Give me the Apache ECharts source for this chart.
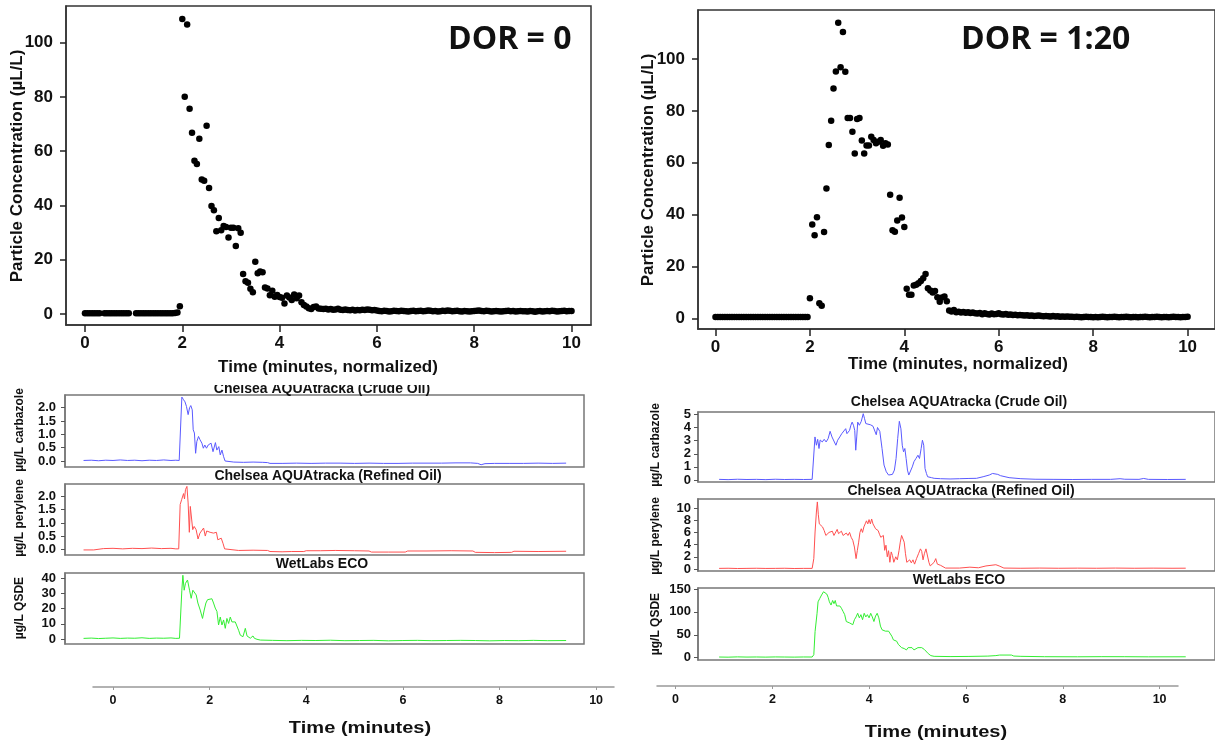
<!DOCTYPE html>
<html><head><meta charset="utf-8">
<script src="https://cdn.jsdelivr.net/npm/echarts@6/dist/echarts.min.js"></script>
<style>html,body{margin:0;padding:0;background:#fff;overflow:hidden}#c{width:1215px;height:742px}</style>
</head><body><div id="c"></div><script>
// ---------- DATA ----------
const scatterT0 = 0, scatterStep = 0.05;   // sampling grid of the particle counter (minutes)
const dor0Values = [
 0.3,0.3,0.3,0.3,0.3,0.3,0.3, null,
 0.3,0.3,0.3,0.3,0.3,0.3,0.3,0.3,0.3,0.3,0.3, null,null,
 0.3,0.3,0.3,0.3,0.3,0.3,0.3,0.3,0.3,0.3,0.3,0.3,0.3,0.3,0.3,0.3,0.4,0.6,
 2.9,
 108.7,80.1,106.7,75.6,66.8,56.5,55.3,64.6,49.6,49.1,69.4,46.4,39.8,38.2,30.5,35.4,30.9,32.4,32.1,28.2,
 31.8,31.8,25.1,31.6,29.9,14.7,12.1,11.5,9.3,8.0,19.3,15.0,15.7,15.4,9.8,9.4,6.9,8.6,6.4,7.0,
 6.3,6.0,3.9,6.8,6.1,5.2,7.2,5.8,6.8,4.3,3.3,2.8,2.1,1.8,2.6,2.8,2.0,1.9,1.8,1.9,1.7,
 1.8,1.6,1.7,1.9,1.6,1.5,1.7,1.5,1.4,1.6,
 1.3,1.5,1.4,1.6,1.5,1.7,1.6,1.4,1.5,1.3,
 1.1,1.0,1.2,1.1,0.9,1.0,1.2,1.1,1.0,1.2,
 1.1,1.0,0.9,1.1,1.2,1.0,1.1,1.2,1.0,1.1,
 1.3,1.2,1.0,1.1,0.9,1.0,1.2,1.1,1.3,1.2,
 1.0,1.1,1.2,1.0,0.9,1.1,1.0,0.9,1.0,1.1,
 1.2,1.3,1.1,1.0,1.2,1.1,0.9,1.0,1.1,1.0,
 0.9,1.0,1.1,1.2,1.0,1.1,0.9,1.0,1.1,1.0,
 1.0,0.9,1.1,1.0,0.8,1.0,1.1,0.9,1.0,1.1,
 1.0,1.2,1.1,0.9,1.0,1.1,1.2,1.0,1.1,1.1
];
const dor20Values = [
 0.5,0.5,0.5,0.5,0.5,0.5,0.5,0.5,0.5,0.5,0.5,0.5,0.5,0.5,0.5,0.5,0.5,0.5,0.5,0.5,
 0.5,0.5,0.5,0.5,0.5,0.5,0.5,0.5,0.5,0.5,0.5,0.5,0.5,0.5,0.5,0.5,0.5,0.5,0.5,0.5,
 7.7,36.2,32,39,5.8,4.8,33.3,50.1,66.8,76.2,88.6,95.2,114,96.8,110.4,95.1,77.2,77.2,71.9,63.6,
 76.9,77.2,68.6,63.6,66.6,66.6,70,68.8,67.5,68.1,68.8,66.5,67.5,67,47.6,34,33.4,37.7,46.5,38.9,
 35.2,11.4,9.1,9.1,12.6,12.9,13.5,14.4,15.4,17.1,11.6,10.7,9.9,10.5,8.1,6.4,8,8.4,6.6,3,
 2.6,3.2,2.3,
 2.5,2.2,2.4,2.1,2.3,2.0,2.2,1.9,
 1.8,2.0,1.6,1.9,1.7,1.5,1.8,1.6,1.7,1.9,
 1.6,1.5,1.7,1.4,1.5,1.3,1.4,1.2,1.3,1.2,
 1.1,1.2,1.0,1.1,0.9,1.0,1.1,0.9,0.8,0.9,
 0.8,0.7,0.9,0.7,0.8,0.6,0.7,0.6,0.7,0.6,
 0.6,0.5,0.6,0.5,0.4,0.5,0.6,0.5,0.5,0.4,
 0.5,0.4,0.5,0.6,0.5,0.4,0.5,0.5,0.6,0.5,0.4,0.5,0.5,0.6,0.5,0.4,0.5,0.5,0.4,0.5,
 0.5,0.6,0.5,0.4,0.5,0.5,0.6,0.5,0.4,0.5,0.5,0.4,0.5,0.6,0.5,0.5,0.4,0.5,0.5,0.6
];
// fluorometer traces: [time (min), value]
const crudeLeft = [
 [-0.61,0.02],[-0.45,0.03],[-0.3,0.01],[-0.15,0.03],[0,0.02],[0.15,0.04],[0.3,0.02],[0.45,0.03],[0.6,0.01],[0.75,0.03],[0.9,0.02],[1.05,0.04],[1.2,0.02],[1.3,0.03],[1.37,0.02],
 [1.425,2.4],[1.46,2.3],[1.49,2.22],[1.52,2.05],[1.555,1.74],[1.585,2.0],[1.61,2.08],[1.64,1.92],[1.66,1.17],[1.685,1.05],[1.71,0.29],[1.735,0.73],[1.77,0.92],[1.80,0.8],[1.84,0.67],[1.87,0.48],[1.90,0.6],[1.935,0.48],[1.97,0.6],[2.03,0.67],[2.07,0.35],[2.12,0.69],[2.15,0.41],[2.19,0.54],[2.22,0.23],[2.255,0.41],[2.29,0.16],[2.32,0.0],[2.36,-0.03],
 [2.5,-0.04],[2.7,-0.05],[2.9,-0.04],[3.1,-0.05],[3.2,-0.06],[3.25,-0.09],[3.5,-0.09],[3.8,-0.08],[4.1,-0.09],[4.4,-0.08],[4.7,-0.08],[5.0,-0.09],[5.3,-0.08],[5.6,-0.09],[5.9,-0.09],[6.2,-0.08],[6.5,-0.08],[6.8,-0.08],[7.1,-0.07],[7.4,-0.07],[7.55,-0.09],[7.62,-0.14],[7.7,-0.1],[7.9,-0.09],[8.2,-0.09],[8.5,-0.09],[8.8,-0.08],[9.1,-0.09],[9.38,-0.08]
];
const refinedLeft = [
 [-0.61,-0.01],[-0.4,-0.01],[-0.36,0.05],[-0.2,0.04],[0,0.05],[0.2,0.03],[0.4,0.05],[0.6,0.04],[0.8,0.06],[1.0,0.04],[1.2,0.05],[1.3,0.03],[1.36,0.03],
 [1.39,1.69],[1.42,1.87],[1.46,2.10],[1.48,1.9],[1.50,2.25],[1.53,2.37],[1.555,1.75],[1.58,0.65],[1.60,1.62],[1.62,1.69],[1.65,0.75],[1.68,0.87],[1.72,0.75],[1.76,0.4],[1.80,0.62],[1.84,0.55],[1.875,0.81],[1.91,0.51],[1.94,0.7],[2.01,0.65],[2.08,0.62],[2.14,0.65],[2.17,0.37],[2.21,0.31],[2.24,0.43],[2.28,0.22],[2.31,0.03],[2.35,-0.03],
 [2.6,-0.03],[2.9,-0.02],[3.2,-0.03],[3.25,-0.07],[3.5,-0.08],[3.7,-0.07],[3.95,-0.07],[4.0,-0.04],[4.3,-0.04],[4.6,-0.03],[5.0,-0.04],[5.3,-0.05],[5.35,-0.09],[5.7,-0.09],[6.05,-0.09],[6.1,-0.05],[6.5,-0.05],[7.0,-0.04],[7.45,-0.05],[7.5,-0.1],[7.9,-0.11],[8.25,-0.1],[8.3,-0.06],[8.8,-0.07],[9.38,-0.06]
];
const ecoLeft = [
 [-0.61,0.4],[-0.45,0.6],[-0.3,0.3],[-0.15,0.5],[0,0.7],[0.15,0.4],[0.3,0.6],[0.45,0.5],[0.6,0.8],[0.75,0.4],[0.9,0.6],[1.05,0.5],[1.2,0.7],[1.3,0.4],[1.376,0.5],
 [1.425,32],[1.446,41.8],[1.473,32],[1.50,36.5],[1.542,38.7],[1.584,32],[1.618,26.7],[1.653,32],[1.687,33.2],[1.722,28.9],[1.757,23.6],[1.805,19],[1.853,13.5],[1.888,19],[1.923,23.6],[1.957,25.8],[1.998,26.8],[2.047,26.4],[2.081,23.6],[2.116,20.3],[2.151,18.1],[2.185,9.2],[2.22,14.4],[2.255,9.2],[2.289,12.5],[2.324,7],[2.358,13.5],[2.393,10.2],[2.427,14.4],[2.462,11.2],[2.496,10.2],[2.531,11.2],[2.566,12.3],[2.6,5.7],[2.635,2.5],[2.69,1.5],[2.739,7],[2.774,2],[2.842,0.5],[2.898,2],[2.925,0.5],[2.98,-0.2],[3.05,-0.7],
 [3.3,-0.9],[3.6,-1.1],[3.9,-0.9],[4.2,-1.0],[4.5,-0.8],[4.8,-1.1],[5.1,-1.0],[5.4,-0.9],[5.7,-1.2],[6.0,-1.0],[6.3,-0.9],[6.6,-1.1],[6.9,-1.0],[7.2,-0.9],[7.5,-1.0],[7.8,-1.2],[8.1,-1.0],[8.4,-1.1],[8.7,-0.9],[9.0,-1.1],[9.38,-1.0]
];
const crudeRight = [
 [0.91,0.05],[1.1,0.03],[1.3,0.06],[1.5,0.04],[1.7,0.05],[1.9,0.03],[2.1,0.06],[2.3,0.04],[2.5,0.05],[2.7,0.04],[2.88,0.05],[2.915,0.1],
 [2.94,3.28],[2.97,2.65],[2.997,3.1],[3.025,2.4],[3.05,3.05],[3.094,2.9],[3.135,3.1],[3.176,2.9],[3.218,3.15],[3.26,3.71],[3.3,3.28],[3.34,3.15],[3.383,2.65],[3.42,3.03],[3.465,3.28],[3.507,3.53],[3.548,3.45],[3.59,3.91],[3.617,3.53],[3.645,3.66],[3.672,3.78],[3.7,4.17],[3.727,4.41],[3.755,4.17],[3.782,3.78],[3.803,2.27],[3.824,3.28],[3.845,4.41],[3.879,4.17],[3.92,4.47],[3.962,5.05],[3.99,4.67],[4.016,4.3],[4.058,4.17],[4.12,4.2],[4.168,4.1],[4.21,4.17],[4.237,3.45],[4.264,4.0],[4.292,4.1],[4.313,3.7],[4.36,2.4],[4.402,1.14],[4.45,0.63],[4.498,0.38],[4.54,0.5],[4.58,0.43],[4.622,0.76],[4.657,1.64],[4.691,3.15],[4.726,4.47],[4.76,3.9],[4.788,2.65],[4.815,2.15],[4.843,2.4],[4.87,1.64],[4.898,0.76],[4.926,0.38],[4.967,0.5],[5.0,1.0],[5.036,1.4],[5.078,1.64],[5.12,1.89],[5.153,1.64],[5.188,2.4],[5.215,3.03],[5.243,2.65],[5.27,0.88],[5.3,0.5],[5.325,0.25],[5.366,0.38],[5.408,0.18],[5.463,0.13],
 [5.6,0.1],[5.8,0.08],[6.0,0.1],[6.2,0.12],[6.36,0.13],[6.5,0.25],[6.63,0.38],[6.70,0.5],[6.81,0.43],[6.87,0.33],[7.05,0.18],[7.3,0.1],[7.6,0.06],[8.0,0.05],[8.4,0.04],[8.8,0.05],[9.2,0.05],[9.4,0.1],[9.5,0.06],[9.8,0.05],[9.9,0.12],[10.0,0.05],[10.4,0.04],[10.79,0.05]
];
const refinedRight = [
 [0.91,0.1],[1.1,0.12],[1.3,0.08],[1.5,0.1],[1.7,0.12],[1.9,0.09],[2.1,0.1],[2.3,0.12],[2.5,0.08],[2.7,0.1],[2.88,0.1],[2.915,1.7],
 [2.942,6.07],[2.97,9.34],[2.99,11.0],[3.011,8.9],[3.032,7.4],[3.066,7.2],[3.1,6.9],[3.135,6.3],[3.17,5.5],[3.204,5.2],[3.238,6.0],[3.273,5.8],[3.307,6.2],[3.342,5.5],[3.376,5.2],[3.41,6.5],[3.438,5.8],[3.466,5.5],[3.5,6.2],[3.535,5.5],[3.569,5.6],[3.603,5.9],[3.638,5.5],[3.672,6.0],[3.706,5.2],[3.741,4.7],[3.775,3.6],[3.81,1.7],[3.837,3.06],[3.865,4.4],[3.892,6.0],[3.92,6.6],[3.947,6.0],[3.975,6.9],[4.003,7.4],[4.03,7.9],[4.058,7.4],[4.085,8.1],[4.113,7.4],[4.14,8.2],[4.168,7.4],[4.195,7.2],[4.223,6.6],[4.25,6.9],[4.278,6.3],[4.306,5.7],[4.333,5.2],[4.36,4.9],[4.388,5.5],[4.416,3.06],[4.443,3.9],[4.471,2.0],[4.498,3.0],[4.526,1.1],[4.554,2.8],[4.581,2.2],[4.609,1.1],[4.65,2.0],[4.684,1.5],[4.719,3.0],[4.746,4.4],[4.774,5.5],[4.801,5.8],[4.829,4.4],[4.856,2.5],[4.884,1.1],[4.912,0.8],[4.946,1.5],[4.98,1.0],[5.015,1.5],[5.049,0.8],[5.09,1.7],[5.132,2.5],[5.173,3.3],[5.2,2.9],[5.228,1.5],[5.256,2.5],[5.29,3.3],[5.325,3.0],[5.352,1.1],[5.38,0.5],[5.421,0.8],[5.463,1.1],[5.497,1.7],[5.531,0.8],[5.566,0.5],[5.6,0.6],[5.641,0.3],[5.703,0.15],
 [6.0,0.15],[6.22,0.3],[6.4,0.2],[6.56,0.5],[6.77,0.7],[6.84,0.5],[6.94,0.15],[7.3,0.12],[7.7,0.15],[8.1,0.12],[8.5,0.14],[8.9,0.12],[9.3,0.15],[9.7,0.12],[10.1,0.14],[10.5,0.12],[10.79,0.13]
];
const ecoRight = [
 [0.91,1.5],[1.1,1.2],[1.3,1.8],[1.5,1.4],[1.7,1.6],[1.9,1.3],[2.1,1.7],[2.3,1.5],[2.5,1.3],[2.7,1.6],[2.88,1.5],[2.915,6.5],
 [2.942,57],[2.97,54],[2.984,97],[3.005,122],[3.039,129],[3.08,137],[3.121,144],[3.163,142],[3.19,139],[3.218,132],[3.245,122],[3.28,115],[3.314,125],[3.342,118],[3.369,125],[3.397,113],[3.431,115],[3.466,113],[3.5,108],[3.535,101],[3.569,94],[3.603,79],[3.638,83],[3.672,76],[3.706,79],[3.741,72],[3.775,83],[3.81,89],[3.844,97],[3.879,87],[3.913,94],[3.947,83],[3.982,97],[4.016,89],[4.05,94],[4.085,87],[4.12,97],[4.154,89],[4.188,79],[4.223,91],[4.257,97],[4.292,87],[4.326,69],[4.36,61],[4.395,65],[4.43,58],[4.464,61],[4.498,58],[4.533,61],[4.567,47],[4.6,39],[4.636,36],[4.67,36],[4.705,29],[4.74,25],[4.774,22],[4.829,20],[4.877,17],[4.912,22],[4.953,18],[4.994,22],[5.036,17],[5.077,18],[5.12,22],[5.16,18],[5.2,22],[5.256,18],[5.297,14],[5.338,9],[5.393,4.6],[5.463,3],
 [5.8,2.5],[6.2,2.8],[6.6,3.5],[6.77,4.6],[6.85,5.8],[7.1,5.8],[7.15,3.6],[7.3,3],[7.8,2.2],[8.5,2],[9.0,2.3],[9.5,2.2],[10.0,1.9],[10.79,2]
];
const scatterXTicks = [0,2,4,6,8,10];
const scatterYTicks = [0,20,40,60,80,100];
const timeTicks = [0,2,4,6,8,10];
const crudeTicksL = [0,0.5,1,1.5,2];
const refinedTicksL = [0,0.5,1,1.5,2];
const ecoTicksL = [0,10,20,30,40];
const crudeTicksR = [0,1,2,3,4,5];
const refinedTicksR = [0,2,4,6,8,10];
const ecoTicksR = [0,50,100,150];

// ---------- CHART ----------
const SANS = '"Liberation Sans", Arial, Helvetica, sans-serif';
const toPts = vals => vals.map((v,i) => v === null ? null : [scatterT0 + i*scatterStep, v]).filter(Boolean);
const evens = a => a.filter((_, i) => i % 2 === 0);
const odds = a => a.filter((_, i) => i % 2 === 1);

const grids = [
 {left:66, top:6, width:525, height:319, show:true, borderColor:'#333', borderWidth:1.5},
 {left:698, top:10, width:530, height:319, show:true, borderColor:'#333', borderWidth:1.5},
 {left:65, top:395, width:519, height:72, show:true, borderColor:'#777', borderWidth:1.5},
 {left:65, top:484, width:519, height:71, show:true, borderColor:'#777', borderWidth:1.5},
 {left:65, top:573, width:519, height:71, show:true, borderColor:'#777', borderWidth:1.5},
 {left:698, top:412, width:530, height:70, show:true, borderColor:'#777', borderWidth:1.5},
 {left:698, top:499, width:530, height:72, show:true, borderColor:'#777', borderWidth:1.5},
 {left:698, top:588, width:530, height:72, show:true, borderColor:'#777', borderWidth:1.5},
 {left:93, top:686, width:521, height:1, show:false},
 {left:657, top:685, width:521, height:1, show:false}
];

function scatterX(gi, min, max) {
  return {type:'value', gridIndex:gi, min, max, position:'bottom', splitLine:{show:false},
    axisLine:{show:true, onZero:false, lineStyle:{color:'#333', width:1.5}},
    axisTick:{show:true, customValues:scatterXTicks, length:7, lineStyle:{color:'#222', width:1.5}},
    axisLabel:{customValues:scatterXTicks, showMinLabel:true, showMaxLabel:true, margin:10, color:'#111', fontWeight:'bold', fontSize:17, fontFamily:SANS}};
}
function scatterY(gi, min, max) {
  return {type:'value', gridIndex:gi, min, max, position:'left', splitLine:{show:false},
    axisLine:{show:true, onZero:false, lineStyle:{color:'#333', width:1.5}},
    axisTick:{show:true, customValues:scatterYTicks, length:6, lineStyle:{color:'#222', width:1.5}},
    axisLabel:{customValues:scatterYTicks, showMinLabel:true, showMaxLabel:true, margin:13, color:'#111', fontWeight:'bold', fontSize:17, fontFamily:SANS}};
}
function hiddenX(gi, min, max) {
  return {type:'value', gridIndex:gi, min, max, show:false, splitLine:{show:false}, axisLine:{onZero:false}};
}
function panelY(gi, min, max, ticks, dec, margin) {
  return {type:'value', gridIndex:gi, min, max, position:'left', splitLine:{show:false},
    axisLine:{show:true, onZero:false, lineStyle:{color:'#777', width:1.5}},
    axisTick:{show:true, customValues:ticks, length:4, lineStyle:{color:'#555', width:1}},
    axisLabel:{customValues:ticks, showMinLabel:true, showMaxLabel:true, hideOverlap:false, margin,
      color:'#111', fontWeight:'bold', fontSize:13, fontFamily:SANS,
      formatter: v => Number(v).toFixed(dec)}};
}
function timeX(gi, min, max) {
  return {type:'value', gridIndex:gi, min, max, position:'bottom', splitLine:{show:false},
    axisLine:{show:true, onZero:false, lineStyle:{color:'#999', width:1.5}},
    axisTick:{show:true, customValues:timeTicks, length:3, lineStyle:{color:'#999', width:1}},
    axisLabel:{customValues:timeTicks, showMinLabel:true, showMaxLabel:true, margin:7, color:'#111', fontWeight:'bold', fontSize:12.5, fontFamily:SANS}};
}
function hiddenY(gi) { return {type:'value', gridIndex:gi, min:0, max:1, show:false, splitLine:{show:false}, axisLine:{onZero:false}}; }

const xAxes = [
 scatterX(0, -0.39, 10.4), scatterX(1, -0.37, 10.58),
 hiddenX(2, -0.994, 9.75), hiddenX(3, -0.994, 9.75), hiddenX(4, -0.994, 9.75),
 hiddenX(5, 0.463, 11.41), hiddenX(6, 0.463, 11.41), hiddenX(7, 0.463, 11.41),
 timeX(8, -0.414, 10.37), timeX(9, -0.384, 10.38)
];
const yAxes = [
 scatterY(0, -4.05, 113.5), scatterY(1, -4.13, 118.9),
 panelY(2, -0.225, 2.477, crudeTicksL, 1, 9), panelY(3, -0.2, 2.46, refinedTicksL, 1, 9), panelY(4, -3.28, 43.3, ecoTicksL, 0, 9),
 panelY(5, -0.15, 5.18, crudeTicksR, 0, 7), panelY(6, -0.33, 11.48, evens(refinedTicksR), 0, 7), panelY(7, -5.0, 152.2, ecoTicksR, 0, 7),
 hiddenY(8), hiddenY(9),
 // second label set for the tightly spaced refined-oil axis (same scale, alternate ticks)
 panelY(6, -0.33, 11.48, odds(refinedTicksR), 0, 7)
];

function scat(idx, vals) {
  return {type:'scatter', xAxisIndex:idx, yAxisIndex:idx, data:toPts(vals), symbolSize:6.5,
    itemStyle:{color:'#000', opacity:1}, silent:true};
}
function trace(idx, data, color) {
  return {type:'line', xAxisIndex:idx, yAxisIndex:idx, data, showSymbol:false, symbol:'none',
    lineStyle:{color, width:1}, silent:true};
}
const series = [
 scat(0, dor0Values), scat(1, dor20Values),
 trace(2, crudeLeft, '#5a5aff'), trace(3, refinedLeft, '#ff5050'), trace(4, ecoLeft, '#33ee33'),
 trace(5, crudeRight, '#5a5aff'), trace(6, refinedRight, '#ff5050'), trace(7, ecoRight, '#33ee33')
];

function txt(text, x, y, size, opts) {
  opts = opts || {};
  return {type:'text', x, y, rotation: opts.rot || 0, scaleX: opts.sx || 1, z: opts.z || 50, silent:true,
    style:{text, x:0, y:0, fill:'#111', font:`bold ${size}px ${opts.family || SANS}`,
      align: opts.align || 'center', verticalAlign:'middle', textAlign: opts.align || 'center', textVerticalAlign:'middle'}};
}
const V = Math.PI/2;
const graphics = [
 txt('DOR = 0', 448, 40, 32, {align:'left', family:'"Open Sans", Lato, sans-serif'}),
 txt('DOR = 1:20', 961, 40, 32, {align:'left', family:'"Open Sans", Lato, sans-serif'}),
 txt('Particle Concentration (\u00b5L/L)', 17, 166, 17, {rot:V}),
 txt('Particle Concentration (\u00b5L/L)', 648, 170, 17, {rot:V}),
 txt('Time (minutes, normalized)', 328, 367, 17),
 txt('Time (minutes, normalized)', 958, 364, 17),
 txt('Chelsea AQUAtracka (Crude Oil)', 322, 389, 14),
 txt('Chelsea AQUAtracka (Refined Oil)', 328, 476, 14),
 txt('WetLabs ECO', 322, 564, 14),
 txt('Chelsea AQUAtracka (Crude Oil)', 959, 402, 14),
 txt('Chelsea AQUAtracka (Refined Oil)', 961, 491, 14),
 txt('WetLabs ECO', 959, 580, 14),
 txt('\u00b5g/L carbazole', 20, 430, 12, {rot:V}),
 txt('\u00b5g/L perylene', 20, 518, 12, {rot:V}),
 txt('\u00b5g/L QSDE', 20, 608, 12, {rot:V}),
 txt('\u00b5g/L carbazole', 656, 445, 12, {rot:V}),
 txt('\u00b5g/L perylene', 656, 536, 12, {rot:V}),
 txt('\u00b5g/L QSDE', 656, 624, 12, {rot:V}),
 txt('Time (minutes)', 360, 728, 17, {sx:1.18}),
 txt('Time (minutes)', 936, 732, 17, {sx:1.18}),
 {type:'rect', z:90, silent:true, shape:{x:180, y:376, width:300, height:9}, style:{fill:'#fff'}}
];

const chart = echarts.init(document.getElementById('c'), null, {renderer:'canvas'});
chart.setOption({
  animation:false, backgroundColor:'#fff',
  grid:grids, xAxis:xAxes, yAxis:yAxes, series, graphic:{elements:graphics}
});
</script></body></html>
